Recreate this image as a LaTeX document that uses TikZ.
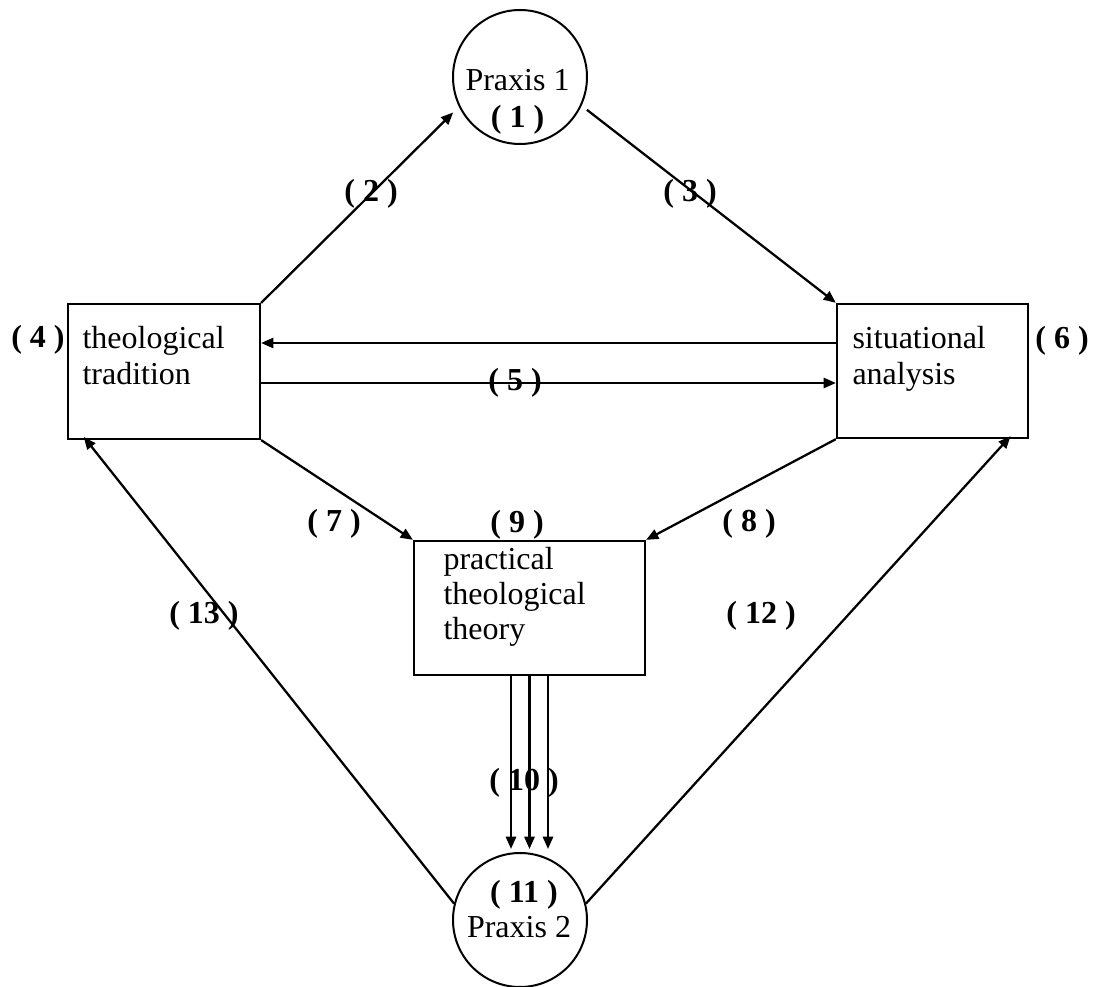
\documentclass[tikz,border=0pt]{standalone}
\usepackage{fontspec}
\setmainfont{Liberation Serif}
\usetikzlibrary{arrows.meta,calc}
\tikzset{
  ln/.style={line width=0.85pt},
  arr/.style={ln,-{Triangle[length=4.6pt,width=3.8pt]}},
  boxnode/.style={draw,line width=0.85pt,rectangle,inner sep=0pt},
  circnode/.style={draw,line width=0.75pt,circle,inner sep=0pt,minimum size=50.25pt},
  txt/.style={inner sep=0pt,anchor=base west,font=\fontsize{12}{14}\selectfont},
  ctxt/.style={inner sep=0pt,anchor=base,font=\fontsize{12}{14}\selectfont},
  lbl/.style={inner sep=0pt,font=\fontsize{12}{14}\selectfont\bfseries},
}
\begin{document}
\begin{tikzpicture}[x=0.375pt,y=-0.375pt]
\useasboundingbox (0,0) rectangle (1094,987);
% shapes
\node[circnode] (p1) at (520,77) {};
\node[circnode] (p2) at (520,920) {};
\node[boxnode,minimum width=72pt,minimum height=50.6pt] (lt) at (164,371.5) {};
\node[boxnode,minimum width=71.6pt,minimum height=50.25pt] (rt) at (932.5,371) {};
\node[boxnode,minimum width=86.6pt,minimum height=50.25pt] (mid) at (529.5,608) {};
% texts
\node[ctxt] (p1a) at (517.5,91) {Praxis 1};
\node[ctxt,font=\fontsize{12}{14}\selectfont\bfseries] (p1b) at (517.5,128) {( 1 )};
\node[ctxt,font=\fontsize{12}{14}\selectfont\bfseries] (p2b) at (524,902) {( 11 )};
\node[ctxt] (p2a) at (519,938) {Praxis 2};
\node[txt] (lt1) at (82,349) {theological};
\node[txt] (lt2) at (82,385) {tradition};
\node[txt] (rt1) at (852,349) {situational};
\node[txt] (rt2) at (852,385) {analysis};
\node[txt] (md1) at (443,570) {practical};
\node[txt] (md2) at (443,605) {theological};
\node[txt] (md3) at (443,640) {theory};
% connectors
\draw[arr,shorten >=3pt] (lt.north east) -- (p1.206);
\draw[arr,shorten <=2.5pt] (p1.-25) -- (rt.north west);
\draw[arr] ($(rt.west)+(0,-28)$) -- ($(lt.east)+(0,-28.5)$);
\draw[arr] ($(lt.east)+(0,11.5)$) -- ($(rt.west)+(0,12)$);
\draw[arr] (lt.south east) -- (mid.north west);
\draw[arr] (rt.south west) -- (mid.north east);
\draw[arr] ($(mid.south)+(-18.5,0)$) -- ($(mid.south |- p2.north)+(-18.5,-3)$);
\draw[arr] (mid.south) -- ($(mid.south |- p2.north)+(0,-3)$);
\draw[arr] ($(mid.south)+(18.5,0)$) -- ($(mid.south |- p2.north)+(18.5,-3)$);
\draw[arr,shorten >=-1.5pt] (p2.166) -- ($(lt.south west)!0.1!(lt.south east)$);
\draw[arr,shorten >=-1.5pt] (p2.14) -- ($(rt.south east)!0.11!(rt.south west)$);
% labels
\node[lbl] (l2) at (371,194) {( 2 )};
\node[lbl] (l3) at (690,194) {( 3 )};
\node[lbl] (l4) at (38,340) {( 4 )};
\node[lbl] (l5) at (515,383) {( 5 )};
\node[lbl] (l6) at (1062,341) {( 6 )};
\node[lbl] (l7) at (334,524) {( 7 )};
\node[lbl] (l8) at (749,524) {( 8 )};
\node[lbl] (l9) at (517,525) {( 9 )};
\node[lbl] (l10) at (524,783) {( 10 )};
\node[lbl] (l12) at (761,616) {( 12 )};
\node[lbl] (l13) at (204,616) {( 13 )};
\end{tikzpicture}
\end{document}
